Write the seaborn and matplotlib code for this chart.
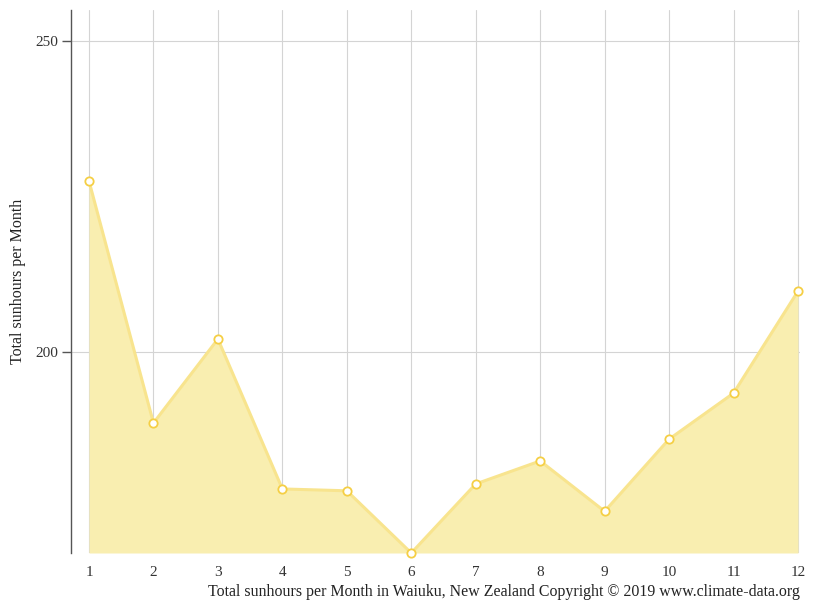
import matplotlib
matplotlib.use("Agg")
import matplotlib.pyplot as plt
import seaborn as sns
import pandas as pd

months = [1, 2, 3, 4, 5, 6, 7, 8, 9, 10, 11, 12]
sunhours = [227.5, 188.6, 202.1, 178.0, 177.7, 167.7, 178.8, 182.5, 174.4, 186.0, 193.4, 209.8]
yticks = [200, 250]

sns.set_theme(style="white")
plt.rcParams['font.family'] = ['Liberation Serif', 'DejaVu Serif']

df = pd.DataFrame({"month": months, "sunhours": sunhours})

fig = plt.figure(figsize=(8.15, 6.11), dpi=100)
ax = fig.add_axes([71/815, 1-553/611, (800-71)/815, (553-10)/611])

ymin = min(sunhours)
ax.fill_between(df["month"], df["sunhours"], ymin, color="#f9eeb0", zorder=2, linewidth=0)
sns.lineplot(data=df, x="month", y="sunhours", ax=ax, color="#f8e48e", linewidth=2.2, zorder=3,
             marker="o", markersize=6, markerfacecolor="white", markeredgecolor="#f5cf45",
             markeredgewidth=1.3, clip_on=False)

ax.set_xlim(1 - 18/64.45, 12 + 2/64.45)
ax.set_ylim(ymin, 255)
ax.set_xticks(months)
ax.set_xticklabels([str(m) for m in months])
ax.set_yticks(yticks)
ax.grid(True, color="#d4d4d4", linewidth=0.8, zorder=1)
ax.set_axisbelow(True)

for s in ["top", "right", "bottom"]:
    ax.spines[s].set_visible(False)
ax.spines["left"].set_color("#555555")
ax.spines["left"].set_linewidth(1.0)

ax.tick_params(axis="y", which="both", left=True, length=6.5, width=1, color="#555555", labelsize=11, pad=3, labelcolor="#333333")
ax.tick_params(axis="x", bottom=False, labelsize=11, pad=3, labelcolor="#333333")

ax.set_xlabel("")
ax.set_ylabel("Total sunhours per Month", fontsize=11.5, color="#222222")
ax.yaxis.set_label_coords((26 - 71) / 729, 0.5)

fig.text(800/815, 1-592/611, "Total sunhours per Month in Waiuku, New Zealand Copyright © 2019 www.climate-data.org",
         ha="right", va="center", fontsize=11.4, color="#222222")

fig.savefig("out.png", dpi=100, facecolor="white")
